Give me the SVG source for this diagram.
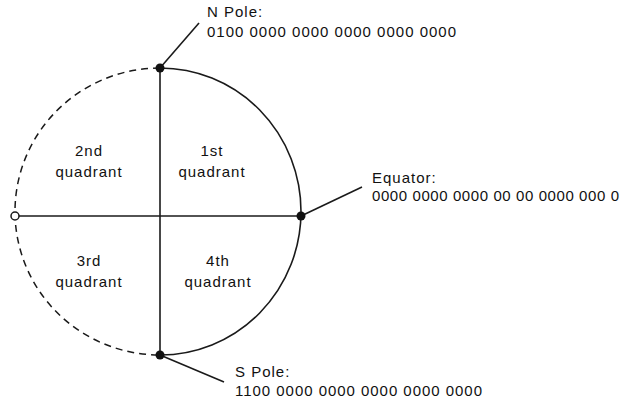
<svg xmlns="http://www.w3.org/2000/svg" width="625" height="404" viewBox="0 0 625 404">
<style>
.ln{fill:none;stroke:#1a1a1a;stroke-width:1.6}
.dash{fill:none;stroke:#1a1a1a;stroke-width:1.5;stroke-dasharray:7 5}
.dot{fill:#111}
.t{font-family:"Liberation Sans",Arial,sans-serif;font-size:15px;fill:#111;letter-spacing:1px}
.c{text-anchor:middle}
</style>
<rect width="625" height="404" fill="#fff"/>
<g id="connectors">
<path class="ln" d="M160,68 A141,143.5 0 0 1 160,355"/>
<path class="dash" d="M160,68 A145,143.5 0 0 0 160,355"/>
<line class="ln" x1="160" y1="68" x2="160" y2="355"/>
<line class="ln" x1="15" y1="216" x2="301" y2="216"/>
<line class="ln" x1="160" y1="68" x2="199" y2="23"/>
<line class="ln" x1="301" y1="216" x2="362" y2="187"/>
<line class="ln" x1="160" y1="355" x2="224" y2="382"/>
</g>
<g id="n-pole">
<circle class="dot" cx="160" cy="68" r="4.5"/>
<text class="t" x="207" y="17">N Pole:</text>
<text class="t" x="207" y="37" textLength="250" lengthAdjust="spacing">0100 0000 0000 0000 0000 0000</text>
</g>
<g id="equator">
<circle class="dot" cx="301" cy="216" r="4.5"/>
<text class="t" x="372" y="183">Equator:</text>
<text class="t" x="372" y="201" textLength="248" lengthAdjust="spacing">0000 0000 0000 00 00 0000 000 0</text>
</g>
<g id="s-pole">
<circle class="dot" cx="160" cy="355" r="4.5"/>
<text class="t" x="235" y="377">S Pole:</text>
<text class="t" x="235" y="396" textLength="248" lengthAdjust="spacing">1100 0000 0000 0000 0000 0000</text>
</g>
<g id="west-point">
<circle cx="15" cy="216" r="4" fill="#fff" stroke="#1a1a1a" stroke-width="1.5"/>
</g>
<g id="q1">
<text class="t c" x="212" y="156">1st</text>
<text class="t c" x="212" y="177">quadrant</text>
</g>
<g id="q2">
<text class="t c" x="89" y="156">2nd</text>
<text class="t c" x="89" y="177">quadrant</text>
</g>
<g id="q3">
<text class="t c" x="89" y="266">3rd</text>
<text class="t c" x="89" y="287">quadrant</text>
</g>
<g id="q4">
<text class="t c" x="218" y="266">4th</text>
<text class="t c" x="218" y="287">quadrant</text>
</g>
</svg>
